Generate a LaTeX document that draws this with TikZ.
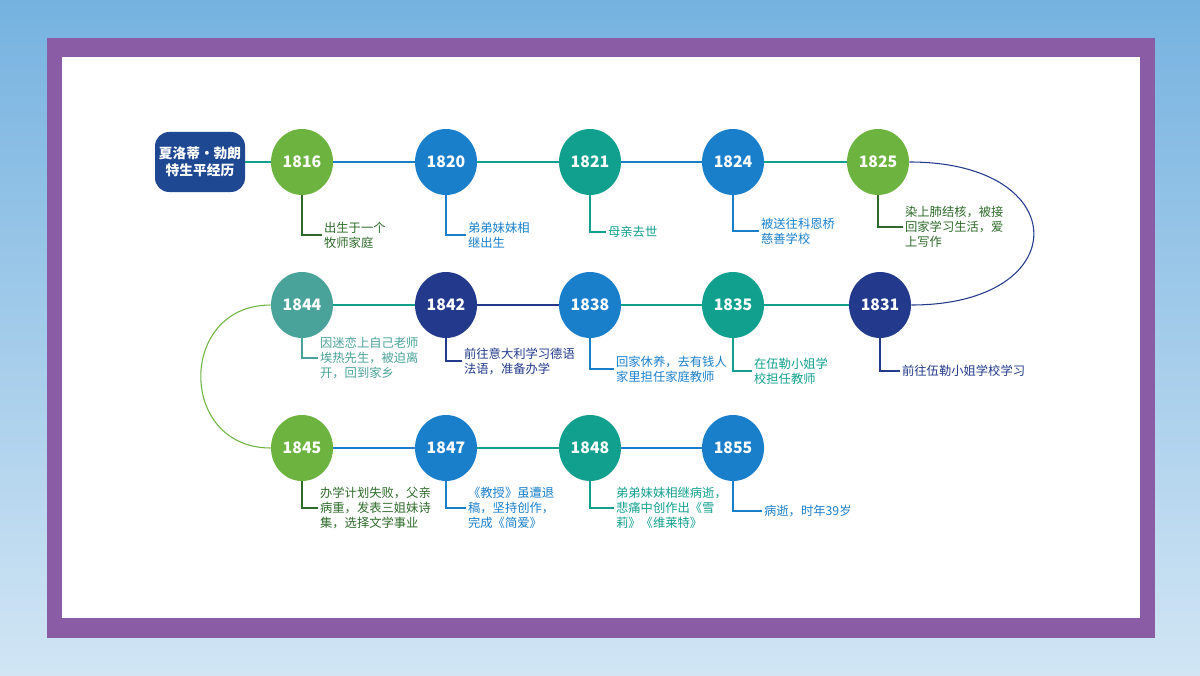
\documentclass[tikz,border=0pt]{standalone}
\usepackage{fontspec}
\setmainfont{Noto Sans CJK SC}
\usetikzlibrary{positioning,shapes.geometric}
\definecolor{cgreen}{HTML}{6DB33F}
\definecolor{cblue}{HTML}{1A7FCB}
\definecolor{cteal}{HTML}{12A08E}
\definecolor{cnavy}{HTML}{233A8C}
\definecolor{cgray}{HTML}{4AA39A}
\definecolor{cdgreen}{HTML}{2E6B2A}
\definecolor{cframe}{HTML}{8B5CA6}
\definecolor{ctitle}{HTML}{1F4893}
\tikzset{
  year/.style={ellipse, minimum width=1.24cm, minimum height=1.32cm, inner sep=0pt,
    text=white, font=\bfseries\fontsize{9}{10}\selectfont},
  note/.style={anchor=west, inner sep=1pt, align=left, font=\fontsize{7}{8.6}\selectfont},
  link/.style={line width=0.6pt},
}
\begin{document}
\begin{tikzpicture}
  % background and frame
  \shade[top color=cblue!60, bottom color=cblue!20] (0,0) rectangle (24,13.5);
  \useasboundingbox (0,0) rectangle (24,13.5);
  \fill[cframe] (0.94,0.74) rectangle (23.1,12.74);
  \fill[white] (1.24,1.14) rectangle (22.8,12.36);

  % title
  \node[fill=ctitle, rounded corners=8pt, minimum width=1.8cm, minimum height=1.2cm, inner sep=1pt,
    text=white, align=center, font=\bfseries\fontsize{7.8}{9.6}\selectfont] (title) at (4,10.26) {夏洛蒂·勃朗\\特生平经历};

  % first row
  \node[year, fill=cgreen] (y1816) at (6.04,10.26) {1816};
  \node[year, fill=cblue] (y1820) at (8.92,10.26) {1820};
  \node[year, fill=cteal] (y1821) at (11.8,10.26) {1821};
  \node[year, fill=cblue] (y1824) at (14.66,10.26) {1824};
  \node[year, fill=cgreen] (y1825) at (17.56,10.26) {1825};
  % second row
  \node[year, fill=cgray] (y1844) at (6.04,7.4) {1844};
  \node[year, fill=cnavy] (y1842) at (8.92,7.4) {1842};
  \node[year, fill=cblue] (y1838) at (11.8,7.4) {1838};
  \node[year, fill=cteal] (y1835) at (14.66,7.4) {1835};
  \node[year, fill=cnavy] (y1831) at (17.6,7.4) {1831};
  % third row
  \node[year, fill=cgreen] (y1845) at (6.04,4.54) {1845};
  \node[year, fill=cblue] (y1847) at (8.92,4.54) {1847};
  \node[year, fill=cteal] (y1848) at (11.8,4.54) {1848};
  \node[year, fill=cblue] (y1855) at (14.66,4.54) {1855};

  % connectors
  \draw[link, cteal] (title) -- (y1816);
  \draw[link, cblue] (y1816) -- (y1820);
  \draw[link, cteal] (y1820) -- (y1821);
  \draw[link, cblue] (y1821) -- (y1824);
  \draw[link, cteal] (y1824) -- (y1825);
  \draw[link, cnavy] (y1825.east) .. controls (21.5,10.26) and (21.5,7.4) .. (y1831.east);
  \draw[link, cteal] (y1831) -- (y1835);
  \draw[link, cteal] (y1835) -- (y1838);
  \draw[link, cnavy] (y1838) -- (y1842);
  \draw[link, cteal] (y1842) -- (y1844);
  \draw[link, cgreen] (y1844.west) .. controls (3.55,7.4) and (3.55,4.54) .. (y1845.west);
  \draw[link, cblue] (y1845) -- (y1847);
  \draw[link, cteal] (y1847) -- (y1848);
  \draw[link, cblue] (y1848) -- (y1855);

  % notes
  \node[note, text=cdgreen] (n1816) at (6.44,8.8) {出生于一个\\牧师家庭};
  \node[note, text=cblue] (n1820) at (9.32,8.8) {弟弟妹妹相\\继出生};
  \node[note, text=cteal] (n1821) at (12.12,8.86) {母亲去世};
  \node[note, text=cblue] (n1824) at (15.18,8.88) {被送往科恩桥\\慈善学校};
  \node[note, text=cdgreen] (n1825) at (18.06,8.96) {染上肺结核，被接\\回家学习生活，爱\\上写作};
  \node[note, text=cgray] (n1844) at (6.36,6.34) {因迷恋上自己老师\\埃热先生，被迫离\\开，回到家乡};
  \node[note, text=cnavy] (n1842) at (9.24,6.28) {前往意大利学习德语\\法语，准备办学};
  \node[note, text=cblue] (n1838) at (12.28,6.12) {回家休养，去有钱人\\家里担任家庭教师};
  \node[note, text=cteal] (n1835) at (15.04,6.08) {在伍勒小姐学\\校担任教师};
  \node[note, text=cnavy] (n1831) at (18,6.08) {前往伍勒小姐学校学习};
  \node[note, text=cdgreen] (n1845) at (6.36,3.34) {办学计划失败，父亲\\病重，发表三姐妹诗\\集，选择文学事业};
  \node[note, text=cblue] (n1847) at (9.32,3.34) {《教授》虽遭退\\稿，坚持创作，\\完成《简爱》};
  \node[note, text=cteal] (n1848) at (12.28,3.34) {弟弟妹妹相继病逝，\\悲痛中创作出《雪\\莉》《维莱特》};
  \node[note, text=cblue] (n1855) at (15.24,3.28) {病逝，时年39岁};

  % leaders
  \foreach \y/\c in {1816/cdgreen,1820/cblue,1821/cteal,1824/cblue,1825/cdgreen,
    1844/cgray,1842/cnavy,1838/cblue,1835/cteal,1831/cnavy,
    1845/cdgreen,1847/cblue,1848/cteal,1855/cblue}
    \draw[link, \c] (y\y.south) |- (n\y.west);
\end{tikzpicture}
\end{document}
